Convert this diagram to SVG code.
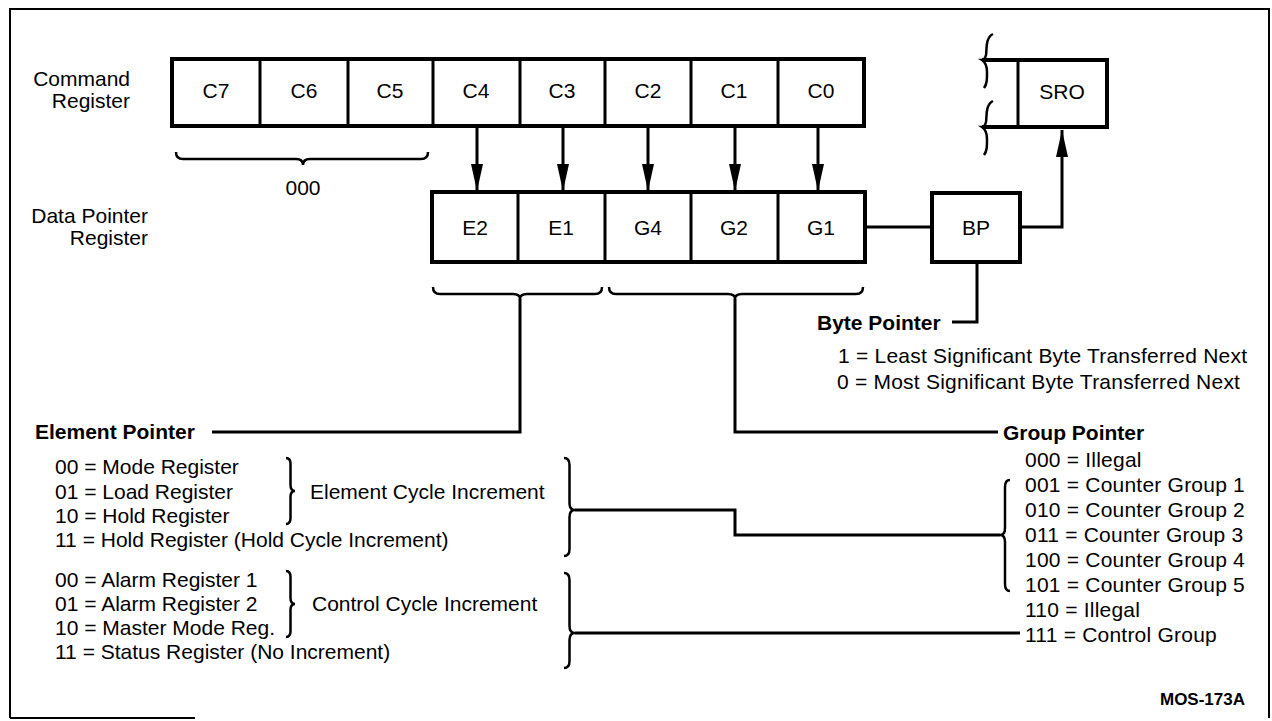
<svg xmlns="http://www.w3.org/2000/svg" width="1272" height="721" viewBox="0 0 1272 721">
<defs>
<marker id="ah" markerUnits="userSpaceOnUse" markerWidth="27" markerHeight="12" refX="27" refY="6" orient="auto"><path d="M0,0 L27,6 L0,12 Z" fill="#000"/></marker>
<style>
text{font-family:"Liberation Sans",Arial,Helvetica,sans-serif;font-size:21px;fill:#000}
.b{font-weight:bold}
.c{text-anchor:middle}
.r{text-anchor:end}
.w{letter-spacing:0.22px}
.box{fill:none;stroke:#000;stroke-width:4}
.dv{stroke:#000;stroke-width:3}
.ln{fill:none;stroke:#000;stroke-width:3}
.br{fill:none;stroke:#000;stroke-width:2.5}
.fr{fill:none;stroke:#000;stroke-width:2}
</style>
</defs>
<rect width="1272" height="721" fill="#fff"/>
<g id="frame">
<path class="fr" d="M10,718 V9 H1269 V718"/>
<path class="fr" d="M10,718 H195"/>
</g>

<g id="labels">
<text class="r" x="130" y="86">Command</text>
<text class="r" x="130" y="108">Register</text>
<text class="r" x="148" y="223">Data Pointer</text>
<text class="r" x="148" y="245">Register</text>
<text class="c" x="303" y="195">000</text>
<text class="b r" x="1245" y="705" style="font-size:17px">MOS-173A</text>
</g>

<g id="command-register">
<rect class="box" x="172" y="59" width="692" height="67"/>
<path class="dv" d="M260,59V126 M348,59V126 M433,59V126 M520,59V126 M605,59V126 M691,59V126 M778,59V126"/>
<text class="c" x="216" y="98">C7</text>
<text class="c" x="304" y="98">C6</text>
<text class="c" x="390" y="98">C5</text>
<text class="c" x="476" y="98">C4</text>
<text class="c" x="562" y="98">C3</text>
<text class="c" x="648" y="98">C2</text>
<text class="c" x="734" y="98">C1</text>
<text class="c" x="821" y="98">C0</text>
</g>

<g id="data-pointer-register">
<rect class="box" x="432" y="192" width="433" height="70"/>
<path class="dv" d="M518,192V262 M605,192V262 M691,192V262 M778,192V262"/>
<text class="c" x="475" y="235">E2</text>
<text class="c" x="561" y="235">E1</text>
<text class="c" x="648" y="235">G4</text>
<text class="c" x="734" y="235">G2</text>
<text class="c" x="821" y="235">G1</text>
</g>

<g id="sro">
<path class="box" d="M982,60 H1107 V127 H982"/>
<path class="dv" d="M1018,60V127"/>
<path class="br" d="M993,34 C985,38 987,50 986,55 C985,59 983,60 982,60 C985,62 987,66 987,72 C987,80 987,84 984,88"/>
<path class="br" d="M993,101 C985,105 987,117 986,122 C985,126 983,127 982,127 C985,129 987,133 987,139 C987,147 987,151 984,155"/>
<text class="c" x="1062" y="99">SRO</text>
</g>

<g id="bp">
<rect class="box" x="932" y="193" width="88" height="69"/>
<text class="c" x="976" y="235">BP</text>
</g>

<g id="byte-pointer">
<text class="b" x="817" y="330">Byte Pointer</text>
<text class="w" x="838" y="363">1 = Least Significant Byte Transferred Next</text>
<text class="w" x="837" y="389">0 = Most Significant Byte Transferred Next</text>
</g>

<g id="element-pointer">
<text class="b" x="35" y="439">Element Pointer</text>
<text x="55" y="474">00 = Mode Register</text>
<text x="55" y="499">01 = Load Register</text>
<text x="55" y="523">10 = Hold Register</text>
<text x="55" y="547">11 = Hold Register (Hold Cycle Increment)</text>
<text x="55" y="587">00 = Alarm Register 1</text>
<text x="55" y="611">01 = Alarm Register 2</text>
<text x="55" y="635">10 = Master Mode Reg.</text>
<text x="55" y="659">11 = Status Register (No Increment)</text>
<text x="310" y="499">Element Cycle Increment</text>
<text x="312" y="611">Control Cycle Increment</text>
<path class="br" d="M286,458 Q290.5,458 290.5,464 L290.5,485 Q290.5,491 295,491 Q290.5,491 290.5,497 L290.5,518 Q290.5,524 286,524"/>
<path class="br" d="M286,571 Q290.5,571 290.5,577 L290.5,598 Q290.5,604 295,604 Q290.5,604 290.5,610 L290.5,631 Q290.5,637 286,637"/>
<path class="br" d="M564,458 Q569.5,458 569.5,465 L569.5,503 Q569.5,510 575,510 Q569.5,510 569.5,517 L569.5,549 Q569.5,556 564,556"/>
<path class="br" d="M564,573 Q569.5,573 569.5,580 L569.5,626 Q569.5,633 575,633 Q569.5,633 569.5,640 L569.5,661 Q569.5,668 564,668"/>
</g>

<g id="group-pointer">
<text class="b" x="1003" y="440">Group Pointer</text>
<text class="w" x="1025" y="467">000 = Illegal</text>
<text class="w" x="1025" y="492">001 = Counter Group 1</text>
<text class="w" x="1025" y="517">010 = Counter Group 2</text>
<text class="w" x="1025" y="542">011 = Counter Group 3</text>
<text class="w" x="1025" y="567">100 = Counter Group 4</text>
<text class="w" x="1025" y="592">101 = Counter Group 5</text>
<text class="w" x="1025" y="617">110 = Illegal</text>
<text class="w" x="1025" y="642">111 = Control Group</text>
<path class="br" d="M1010,480 Q1005,480 1005,487 L1005,528 Q1005,535 1000,535 Q1005,535 1005,542 L1005,584 Q1005,591 1010,591"/>
</g>

<g id="connectors">
<path class="br" d="M176,152 Q176,159 183,159 L296,159 Q303,159 303,165 Q303,159 310,159 L421,159 Q428,159 428,152"/>
<path class="br" d="M433,287 Q433,294 440,294 L513,294 Q520,294 520,299 Q520,294 527,294 L595,294 Q602,294 602,287"/>
<path class="br" d="M609,287 Q609,294 616,294 L728,294 Q735,294 735,299 Q735,294 742,294 L856,294 Q863,294 863,287"/>
<line class="ln" x1="477" y1="128" x2="477" y2="191" marker-end="url(#ah)"/>
<line class="ln" x1="563" y1="128" x2="563" y2="191" marker-end="url(#ah)"/>
<line class="ln" x1="648" y1="128" x2="648" y2="191" marker-end="url(#ah)"/>
<line class="ln" x1="735" y1="128" x2="735" y2="191" marker-end="url(#ah)"/>
<line class="ln" x1="818" y1="128" x2="818" y2="191" marker-end="url(#ah)"/>
<path class="ln" d="M865,227 H932"/>
<path class="ln" d="M1020,227 H1062 V130" marker-end="url(#ah)"/>
<path class="ln" d="M977,262 V322 H952"/>
<path class="ln" d="M520,299 V432 H212"/>
<path class="ln" d="M735,299 V432 H998"/>
<path class="ln" d="M575,510 H735 V535 H1000"/>
<path class="ln" d="M575,633 H1020"/>
</g>
</svg>
